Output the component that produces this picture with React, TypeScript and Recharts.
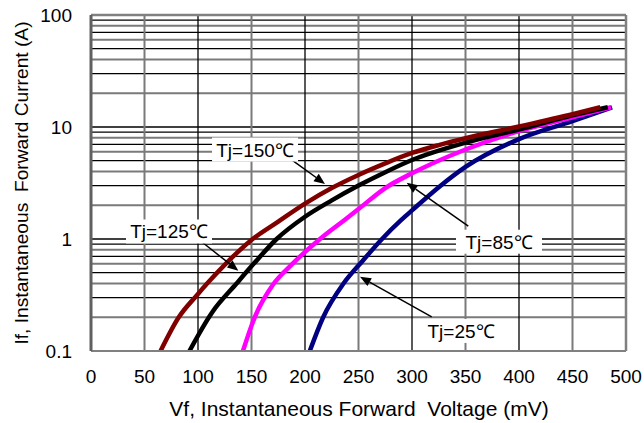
import { LineChart, Line, XAxis, YAxis, ReferenceLine, ReferenceDot } from 'recharts';

// Vf (mV) / If (A)
const volts150 = [65, 82, 99, 110, 127, 150, 175, 200, 225, 250, 275, 300, 325, 350, 400, 450, 476];
const amps150 = [0.1, 0.2, 0.315, 0.415, 0.616, 0.98, 1.43, 2.07, 2.85, 3.73, 4.73, 5.86, 6.9, 7.94, 10.1, 13.0, 15];

const volts125 = [92, 113, 136, 152, 173.5, 200, 225, 250, 275, 300, 350, 400, 450, 483];
const amps125 = [0.1, 0.22, 0.4, 0.6, 1.0, 1.58, 2.21, 3.0, 3.95, 5.07, 7.25, 9.5, 12.7, 15];

const volts85 = [142, 153, 170, 187.5, 214, 237, 250, 275, 300, 350, 400, 450, 486];
const amps85 = [0.1, 0.2, 0.39, 0.59, 1.0, 1.48, 1.85, 2.85, 3.86, 6.3, 9.2, 12.2, 15];

const volts25 = [204.5, 217, 236, 254, 272, 290, 300, 325, 350, 400, 450, 487];
const amps25 = [0.1, 0.2, 0.4, 0.64, 1.0, 1.48, 1.8, 2.9, 4.4, 7.8, 11.3, 15];

const xTicks = [0, 50, 100, 150, 200, 250, 300, 350, 400, 450, 500];
const yTicks = [0.1, 1, 10, 100];
const minorY = [0.2, 0.3, 0.4, 0.5, 0.6, 0.7, 0.8, 0.9, 2, 3, 4, 5, 6, 7, 8, 9, 20, 30, 40, 50, 60, 70, 80, 90];

const FONT = '"Liberation Sans", Arial, sans-serif';

const toRows = (vs: number[], as: number[]) => vs.map((v, i) => ({ v, a: as[i] }));

const curves = [
  { name: 'Tj=25', color: '#000080', rows: toRows(volts25, amps25) },
  { name: 'Tj=85', color: '#ff00ff', rows: toRows(volts85, amps85) },
  { name: 'Tj=125', color: '#000000', rows: toRows(volts125, amps125) },
  { name: 'Tj=150', color: '#800000', rows: toRows(volts150, amps150) },
];

// callouts: text spot and arrow start/tip, in data units
const notes = [
  { text: 'Tj=150℃', at: [153.3, 6.29], from: [187.9, 5.07], to: [218.7, 3.1], w: 86 },
  { text: 'Tj=125℃', at: [72.9, 1.167], from: [103.7, 0.94], to: [137.7, 0.521], w: 86 },
  { text: 'Tj=85℃', at: [381.3, 0.946], from: [352.6, 1.306], to: [295, 3.18], w: 86 },
  { text: 'Tj=25℃', at: [345.8, 0.151], from: [318.4, 0.202], to: [251.4, 0.46], w: 76 },
];

function Arrow(p: any) {
  const { x1, y1, x2, y2 } = p;
  const ang = Math.atan2(y2 - y1, x2 - x1);
  const len = 11;
  const half = 4.5;
  const bx = x2 - len * Math.cos(ang);
  const by = y2 - len * Math.sin(ang);
  const px = -Math.sin(ang) * half;
  const py = Math.cos(ang) * half;
  return (
    <g>
      <line x1={x1} y1={y1} x2={bx} y2={by} stroke="#000" strokeWidth={1.5} />
      <polygon points={`${x2},${y2} ${bx + px},${by + py} ${bx - px},${by - py}`} fill="#000" />
    </g>
  );
}

function Note({ cx, cy, text, w }: any) {
  return (
    <g>
      <rect x={cx - w / 2} y={cy - 12} width={w} height={24} fill="#fff" />
      <text x={cx} y={cy + 7} textAnchor="middle" fontFamily={FONT} fontSize={19} fill="#000">
        {text}
      </text>
    </g>
  );
}

export default function App() {
  return (
    <div style={{ position: 'absolute', left: 0, top: 0, width: 644, height: 423, background: '#fff' }}>
      <LineChart width={644} height={423} margin={{ top: 15, right: 18, left: 0, bottom: 0 }}>
        <XAxis
          dataKey="v"
          type="number"
          domain={[0, 500]}
          ticks={xTicks}
          allowDataOverflow
          tickLine={false}
          tickSize={0}
          tickMargin={19}
          height={72}
          stroke="#808080"
          strokeWidth={2}
          tick={{ fontSize: 19, fill: '#000', fontFamily: FONT }}
        />
        <YAxis
          dataKey="a"
          type="number"
          scale="log"
          domain={[0.1, 100]}
          ticks={yTicks}
          allowDataOverflow
          tickLine={false}
          tickSize={0}
          tickMargin={19}
          width={91}
          stroke="#606060"
          strokeWidth={3}
          tickFormatter={(t: number) => String(t)}
          tick={{ fontSize: 19, fill: '#000', fontFamily: FONT }}
        />
        {minorY.map((y, i) => (
          <ReferenceLine
            key={'h' + y}
            y={y}
            stroke={i % 2 ? '#000' : '#7a7a7a'}
            strokeWidth={i % 2 ? 1.3 : 2}
          />
        ))}
        <ReferenceLine y={1} stroke="#000" strokeWidth={1.3} />
        <ReferenceLine y={10} stroke="#000" strokeWidth={1.3} />
        {xTicks.slice(1, -1).map((x, i) => (
          <ReferenceLine
            key={'v' + x}
            x={x}
            stroke={i % 2 ? '#000' : '#7a7a7a'}
            strokeWidth={i % 2 ? 1.3 : 2}
          />
        ))}
        <ReferenceLine y={100} stroke="#808080" strokeWidth={2.5} />
        <ReferenceLine x={500} stroke="#808080" strokeWidth={2.5} />
        {curves.map((c) => (
          <Line
            key={c.name}
            data={c.rows}
            dataKey="a"
            type="monotone"
            stroke={c.color}
            strokeWidth={4.5}
            dot={false}
            activeDot={false}
            isAnimationActive={false}
          />
        ))}
        {notes.map((n) => (
          <ReferenceLine
            key={'a' + n.text}
            segment={[
              { x: n.from[0], y: n.from[1] },
              { x: n.to[0], y: n.to[1] },
            ]}
            shape={(p: any) => <Arrow {...p} />}
          />
        ))}
        {notes.map((n) => (
          <ReferenceDot
            key={'n' + n.text}
            x={n.at[0]}
            y={n.at[1]}
            r={0}
            shape={(p: any) => <Note {...p} text={n.text} w={n.w} />}
          />
        ))}
      </LineChart>
      <svg
        width={644}
        height={423}
        style={{ position: 'absolute', left: 0, top: 0, pointerEvents: 'none' }}
      >
        <text x={359} y={416} textAnchor="middle" fontFamily={FONT} fontSize={21} fill="#000" xmlSpace="preserve">
          Vf, Instantaneous Forward  Voltage (mV)
        </text>
        <text
          x={28}
          y={183}
          transform="rotate(-90 28 183)"
          textAnchor="middle"
          fontFamily={FONT}
          fontSize={19.2}
          fill="#000"
          xmlSpace="preserve"
        >
          If, Instantaneous  Forward Current (A)
        </text>
      </svg>
    </div>
  );
}
